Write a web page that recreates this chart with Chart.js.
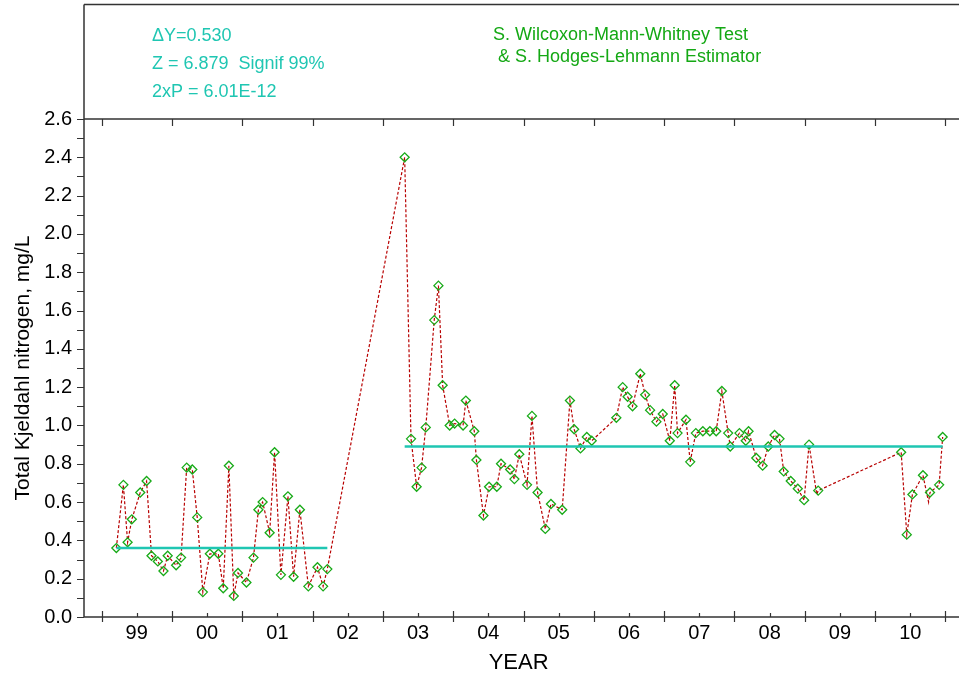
<!DOCTYPE html>
<html>
<head>
<meta charset="utf-8">
<script src="https://cdn.jsdelivr.net/npm/chart.js@4.4.1/dist/chart.umd.min.js"></script>
<style>
    html, body { margin: 0; padding: 0; background: #fff; }
</style>
</head>
<body>
<canvas id="myChart" width="959" height="682"></canvas>
<script>
// sample dates as decimal years, values in mg/L
const sampleYears = [
    1999.21, 1999.31, 1999.37, 1999.43, 1999.55, 1999.64, 1999.71, 1999.80, 1999.88, 1999.94,
    2000.06, 2000.13, 2000.21, 2000.29, 2000.36, 2000.44, 2000.54, 2000.66, 2000.73, 2000.81, 2000.88, 2000.94,
    2001.06, 2001.16, 2001.23, 2001.29, 2001.39, 2001.46, 2001.55, 2001.65, 2001.73, 2001.82, 2001.94,
    2002.07, 2002.15, 2002.21,
    2003.31, 2003.40, 2003.48, 2003.55, 2003.61, 2003.73, 2003.79, 2003.85, 2003.95,
    2004.02, 2004.14, 2004.18, 2004.30, 2004.33, 2004.43, 2004.51, 2004.62, 2004.68, 2004.81, 2004.87, 2004.94,
    2005.05, 2005.12, 2005.20, 2005.31, 2005.39, 2005.55, 2005.66, 2005.72, 2005.81, 2005.90, 2005.97,
    2006.32, 2006.41, 2006.48, 2006.55, 2006.66, 2006.73, 2006.80, 2006.89, 2006.98,
    2007.08, 2007.15, 2007.19, 2007.31, 2007.37, 2007.45, 2007.55, 2007.65, 2007.74, 2007.82, 2007.91, 2007.94,
    2008.07, 2008.16, 2008.20, 2008.31, 2008.40, 2008.48, 2008.57, 2008.64, 2008.70, 2008.80, 2008.90, 2008.99,
    2009.06, 2009.17, 2009.19,
    2010.37, 2010.45, 2010.53, 2010.68, 2010.76, 2010.78, 2010.91, 2010.96
];
const tknValues = [
    0.36, 0.69, 0.39, 0.51, 0.65, 0.71, 0.32, 0.29, 0.24, 0.32,
    0.27, 0.31, 0.78, 0.77, 0.52, 0.13, 0.33, 0.33, 0.15, 0.79, 0.11, 0.23,
    0.18, 0.31, 0.56, 0.60, 0.44, 0.86, 0.22, 0.63, 0.21, 0.56, 0.16,
    0.26, 0.16, 0.25,
    2.40, 0.93, 0.68, 0.78, 0.99, 1.55, 1.73, 1.21, 1.00,
    1.01, 1.00, 1.13, 0.97, 0.82, 0.53, 0.68, 0.68, 0.80, 0.77, 0.72, 0.85,
    0.69, 1.05, 0.65, 0.46, 0.59, 0.56, 1.13, 0.98, 0.88, 0.94, 0.92,
    1.04, 1.20, 1.15, 1.10, 1.27, 1.16, 1.08, 1.02, 1.06,
    0.92, 1.21, 0.96, 1.03, 0.81, 0.96, 0.97, 0.97, 0.97, 1.18, 0.96, 0.89,
    0.96, 0.92, 0.97, 0.83, 0.79, 0.89, 0.95, 0.93, 0.76, 0.71, 0.67, 0.61,
    0.90, 0.64, 0.66,
    0.86, 0.43, 0.64, 0.74, 0.60, 0.65, 0.69, 0.94
];
// samples that show in the line but have no marker
const unmarkedYears = [2009.17, 2010.76];

// the two periods compared by the test, with their medians
const periodStart = [1999.21, 2003.31];
const periodEnd = [2002.21, 2010.96];
const periodMedian = [0.36, 0.89];

const yearLabels = ['99', '00', '01', '02', '03', '04', '05', '06', '07', '08', '09', '10'];
const firstYear = 1999;
const yTicks = [0, 0.2, 0.4, 0.6, 0.8, 1.0, 1.2, 1.4, 1.6, 1.8, 2.0, 2.2, 2.4, 2.6];

const statsLines = ['\u0394Y=0.530', 'Z = 6.879  Signif 99%', '2xP = 6.01E-12'];
const testLines = ['S. Wilcoxon-Mann-Whitney Test', ' & S. Hodges-Lehmann Estimator'];

const FONT = "'Liberation Sans', Arial, sans-serif";
const TEAL = '#1fc6b2';

const frame = {
    id: 'frame',
    afterDraw(chart) {
        const ctx = chart.ctx;
        const area = chart.chartArea;
        const xs = chart.scales.x;
        const ys = chart.scales.y;
        ctx.save();
        ctx.strokeStyle = '#333';
        ctx.lineWidth = 1.5;
        ctx.beginPath();
        // box around the whole plot, axis lines
        ctx.moveTo(area.left, 4.5);
        ctx.lineTo(area.left, area.bottom);
        ctx.lineTo(chart.width, area.bottom);
        ctx.moveTo(area.left, 4.5);
        ctx.lineTo(chart.width, 4.5);
        ctx.moveTo(area.left, area.top);
        ctx.lineTo(chart.width, area.top);
        ctx.stroke();

        ctx.lineWidth = 1.2;
        ctx.beginPath();
        for (let i = 0; i <= yearLabels.length; i++) {
            const px = Math.round(xs.getPixelForValue(firstYear + i)) + 0.5;
            ctx.moveTo(px, area.bottom - 6);
            ctx.lineTo(px, area.bottom + 5);
            ctx.moveTo(px, area.top);
            ctx.lineTo(px, area.top + 7);
            if (i < yearLabels.length) {
                const mx = Math.round(xs.getPixelForValue(firstYear + i + 0.5)) + 0.5;
                ctx.moveTo(mx, area.bottom - 4);
                ctx.lineTo(mx, area.bottom);
            }
        }
        for (let v = 0; v <= 26; v++) {
            const py = Math.round(ys.getPixelForValue(v / 10)) + 0.5;
            ctx.moveTo(area.left - 7, py);
            ctx.lineTo(area.left, py);
        }
        ctx.stroke();

        ctx.textBaseline = 'middle';
        ctx.textAlign = 'left';
        ctx.font = '18px ' + FONT;
        ctx.fillStyle = TEAL;
        statsLines.forEach((t, i) => ctx.fillText(t, 152, 36 + i * 28));
        ctx.fillStyle = '#14a814';
        testLines.forEach((t, i) => ctx.fillText(t, 493, 35 + i * 22));
        ctx.restore();
    }
};

const points = sampleYears.map((t, i) => ({ x: t, y: tknValues[i] }));
const medianSets = periodMedian.map((m, i) => ({
    data: [{ x: periodStart[i], y: m }, { x: periodEnd[i], y: m }],
    borderColor: TEAL,
    borderWidth: 2.5,
    pointRadius: 0,
    order: 0
}));

new Chart(document.getElementById('myChart'), {
    type: 'line',
    data: {
        datasets: [{
            data: points,
            borderColor: '#b80000',
            borderWidth: 1.2,
            borderDash: [3, 2],
            pointStyle: 'rectRot',
            pointRadius: (c) => unmarkedYears.includes(sampleYears[c.dataIndex]) ? 0 : 4.5,
            pointBorderColor: '#18aa18',
            pointBorderWidth: 1.3,
            pointBackgroundColor: 'rgba(255,255,255,0)',
            order: 1
        }, ...medianSets]
    },
    options: {
        responsive: false,
        animation: false,
        devicePixelRatio: 1,
        layout: { padding: { top: 119, right: 0, left: 0, bottom: 0 } },
        plugins: { legend: { display: false }, tooltip: { enabled: false } },
        scales: {
            x: {
                type: 'linear',
                min: 1998.75,
                max: 2011.11,
                afterFit: (s) => { s.height = 65; },
                afterBuildTicks: (s) => { s.ticks = yearLabels.map((l, i) => ({ value: firstYear + i + 0.5 })); },
                grid: { display: false, drawTicks: false },
                border: { display: false },
                ticks: {
                    autoSkip: false,
                    maxRotation: 0,
                    padding: 4,
                    color: '#000',
                    font: { family: FONT, size: 20 },
                    callback: (v, i) => yearLabels[i]
                },
                title: {
                    display: true,
                    text: 'YEAR',
                    color: '#000',
                    font: { family: FONT, size: 22 },
                    padding: { top: 0, bottom: 6 }
                }
            },
            y: {
                min: 0,
                max: 2.6,
                afterFit: (s) => { s.width = 84; },
                afterBuildTicks: (s) => { s.ticks = yTicks.map((v) => ({ value: v })); },
                grid: { display: false, drawTicks: false },
                border: { display: false },
                ticks: {
                    padding: 12,
                    color: '#000',
                    font: { family: FONT, size: 20 },
                    callback: (v) => v.toFixed(1)
                },
                title: {
                    display: true,
                    text: 'Total Kjeldahl nitrogen, mg/L',
                    color: '#000',
                    font: { family: FONT, size: 21 },
                    padding: { top: 11, bottom: 0 }
                }
            }
        }
    },
    plugins: [frame]
});
</script>
</body>
</html>
